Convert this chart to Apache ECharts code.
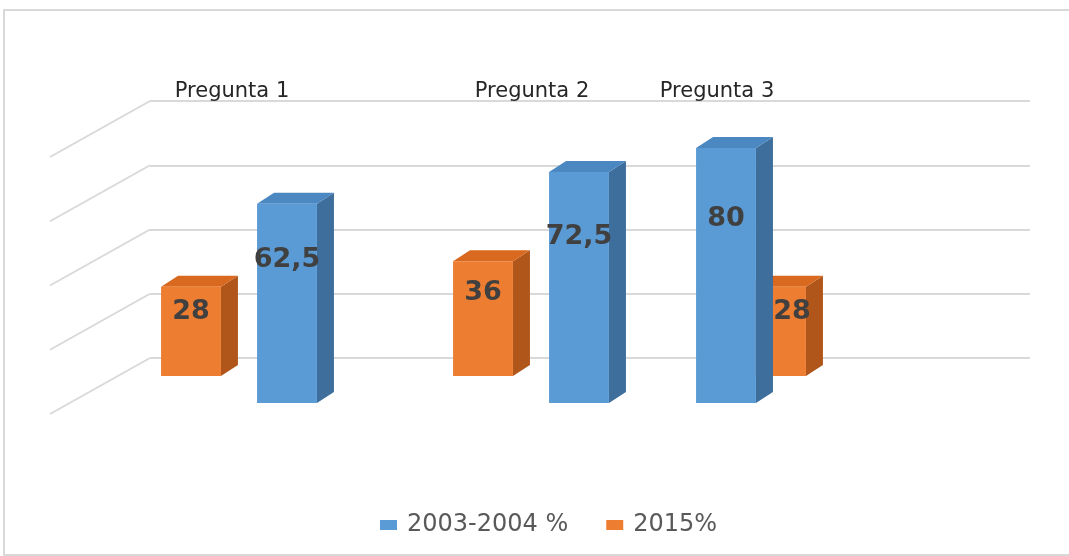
<!DOCTYPE html>
<html>
<head>
<meta charset="utf-8">
<script src="https://cdn.jsdelivr.net/npm/echarts@6/dist/echarts.min.js"></script>
<style>
  html, body { margin: 0; padding: 0; background: #fff; }
  #chart { width: 1069px; height: 556px; }
</style>
</head>
<body>
<div id="chart"></div>
<script>
const categories = ['Pregunta 1', 'Pregunta 2', 'Pregunta 3'];
const values2003 = [62.5, 72.5, 80];
const values2015 = [28, 36, 28];
const wallTicks = [0, 20, 40, 60, 80];

// layout of the fake 3D scene (pixels)
const BAR_RATIO = 0.234;
const DEPTH = [17, -11];
const WALL_SLANT = [-100, 56];
const shift2003 = [36, 72, -37];
const shift2015 = [-60, -24, 13];
const floor2015 = -27;
const labelShift2015 = [0, 0, 16];
const titleShift = [-19, 25, -46];

const chart = echarts.init(document.getElementById('chart'));

function barRenderer(shifts, floorShift, labelShifts, colors) {
  return function (params, api) {
    const i = api.value(0);
    const v = api.value(1);
    const base = api.coord([i, 0]);
    const tip = api.coord([i, v]);
    const w = api.size([1, 0])[0] * BAR_RATIO;
    const cx = base[0] + shifts[i];
    const x0 = cx - w / 2;
    const x1 = cx + w / 2;
    const yb = base[1] + floorShift;
    const yt = tip[1] + floorShift;
    const dx = DEPTH[0], dy = DEPTH[1];
    return {
      type: 'group',
      children: [
        {
          type: 'polygon',
          shape: { points: [[x1, yt], [x1 + dx, yt + dy], [x1 + dx, yb + dy], [x1, yb]] },
          style: { fill: colors.side }
        },
        {
          type: 'polygon',
          shape: { points: [[x0, yt], [x0 + dx, yt + dy], [x1 + dx, yt + dy], [x1, yt]] },
          style: { fill: colors.top }
        },
        {
          type: 'rect',
          shape: { x: x0, y: yt, width: w, height: yb - yt },
          style: { fill: colors.face }
        },
        {
          type: 'text',
          x: cx + (labelShifts ? labelShifts[i] : 0),
          y: yb - 0.72 * (yb - yt),
          style: {
            text: String(v).replace('.', ','),
            fill: '#404040',
            font: 'bold 27px "DejaVu Sans"',
            align: 'center',
            verticalAlign: 'middle'
          }
        }
      ]
    };
  };
}

const option = {
  backgroundColor: '#ffffff',
  animation: false,
  graphic: [
    {
      type: 'rect',
      shape: { x: 4, y: 10, width: 1080, height: 545 },
      style: { fill: 'none', stroke: '#d9d9d9', lineWidth: 2 },
      silent: true
    }
  ],
  legend: {
    left: 375,
    top: 508,
    icon: 'rect',
    itemWidth: 17,
    itemHeight: 10,
    itemGap: 38,
    textStyle: { color: '#595959', fontSize: 24, fontFamily: 'DejaVu Sans', padding: [0, 0, 0, 5] },
    data: ['2003-2004 %', '2015%']
  },
  grid: [
    { left: 150, right: 39, top: 101, bottom: 198 },
    { left: 123, right: 178, top: 148, bottom: 153 }
  ],
  xAxis: [
    { type: 'value', gridIndex: 0, min: 0, max: 1, show: false },
    { type: 'category', gridIndex: 1, data: categories, show: false }
  ],
  yAxis: [
    {
      type: 'value', gridIndex: 0, min: 0, max: 80, interval: 20,
      axisLine: { show: false }, axisTick: { show: false }, axisLabel: { show: false },
      splitLine: { lineStyle: { color: '#d9d9d9', width: 2 } }
    },
    { type: 'value', gridIndex: 1, min: 0, max: 80, show: false }
  ],
  series: [
    {
      type: 'custom',
      name: 'wall',
      xAxisIndex: 0,
      yAxisIndex: 0,
      silent: true,
      data: wallTicks.map((t) => [0, t]),
      renderItem: (params, api) => {
        const p = api.coord([0, api.value(1)]);
        return {
          type: 'line',
          shape: { x1: p[0], y1: p[1], x2: p[0] + WALL_SLANT[0], y2: p[1] + WALL_SLANT[1] },
          style: { stroke: '#d9d9d9', lineWidth: 2 }
        };
      }
    },
    {
      type: 'custom',
      name: 'titles',
      xAxisIndex: 1,
      yAxisIndex: 1,
      silent: true,
      data: categories.map((c, i) => [i, c]),
      renderItem: (params, api) => {
        const i = api.value(0);
        const p = api.coord([i, 0]);
        return {
          type: 'text',
          x: p[0] + titleShift[i],
          y: 92,
          style: {
            text: categories[i],
            fill: '#262626',
            font: '21px "DejaVu Sans"',
            align: 'center',
            verticalAlign: 'middle'
          }
        };
      }
    },
    {
      type: 'custom',
      name: '2015%',
      xAxisIndex: 1,
      yAxisIndex: 1,
      itemStyle: { color: '#ED7D31' },
      data: values2015.map((v, i) => [i, v]),
      renderItem: barRenderer(shift2015, floor2015, labelShift2015,
        { face: '#ED7D31', side: '#B1561B', top: '#D8691F' })
    },
    {
      type: 'custom',
      name: '2003-2004 %',
      xAxisIndex: 1,
      yAxisIndex: 1,
      itemStyle: { color: '#5B9BD5' },
      data: values2003.map((v, i) => [i, v]),
      renderItem: barRenderer(shift2003, 0, null,
        { face: '#5B9BD5', side: '#3D6E9C', top: '#4B88C2' })
    }
  ]
};

chart.setOption(option);
window.addEventListener('resize', () => chart.resize());
</script>
</body>
</html>
